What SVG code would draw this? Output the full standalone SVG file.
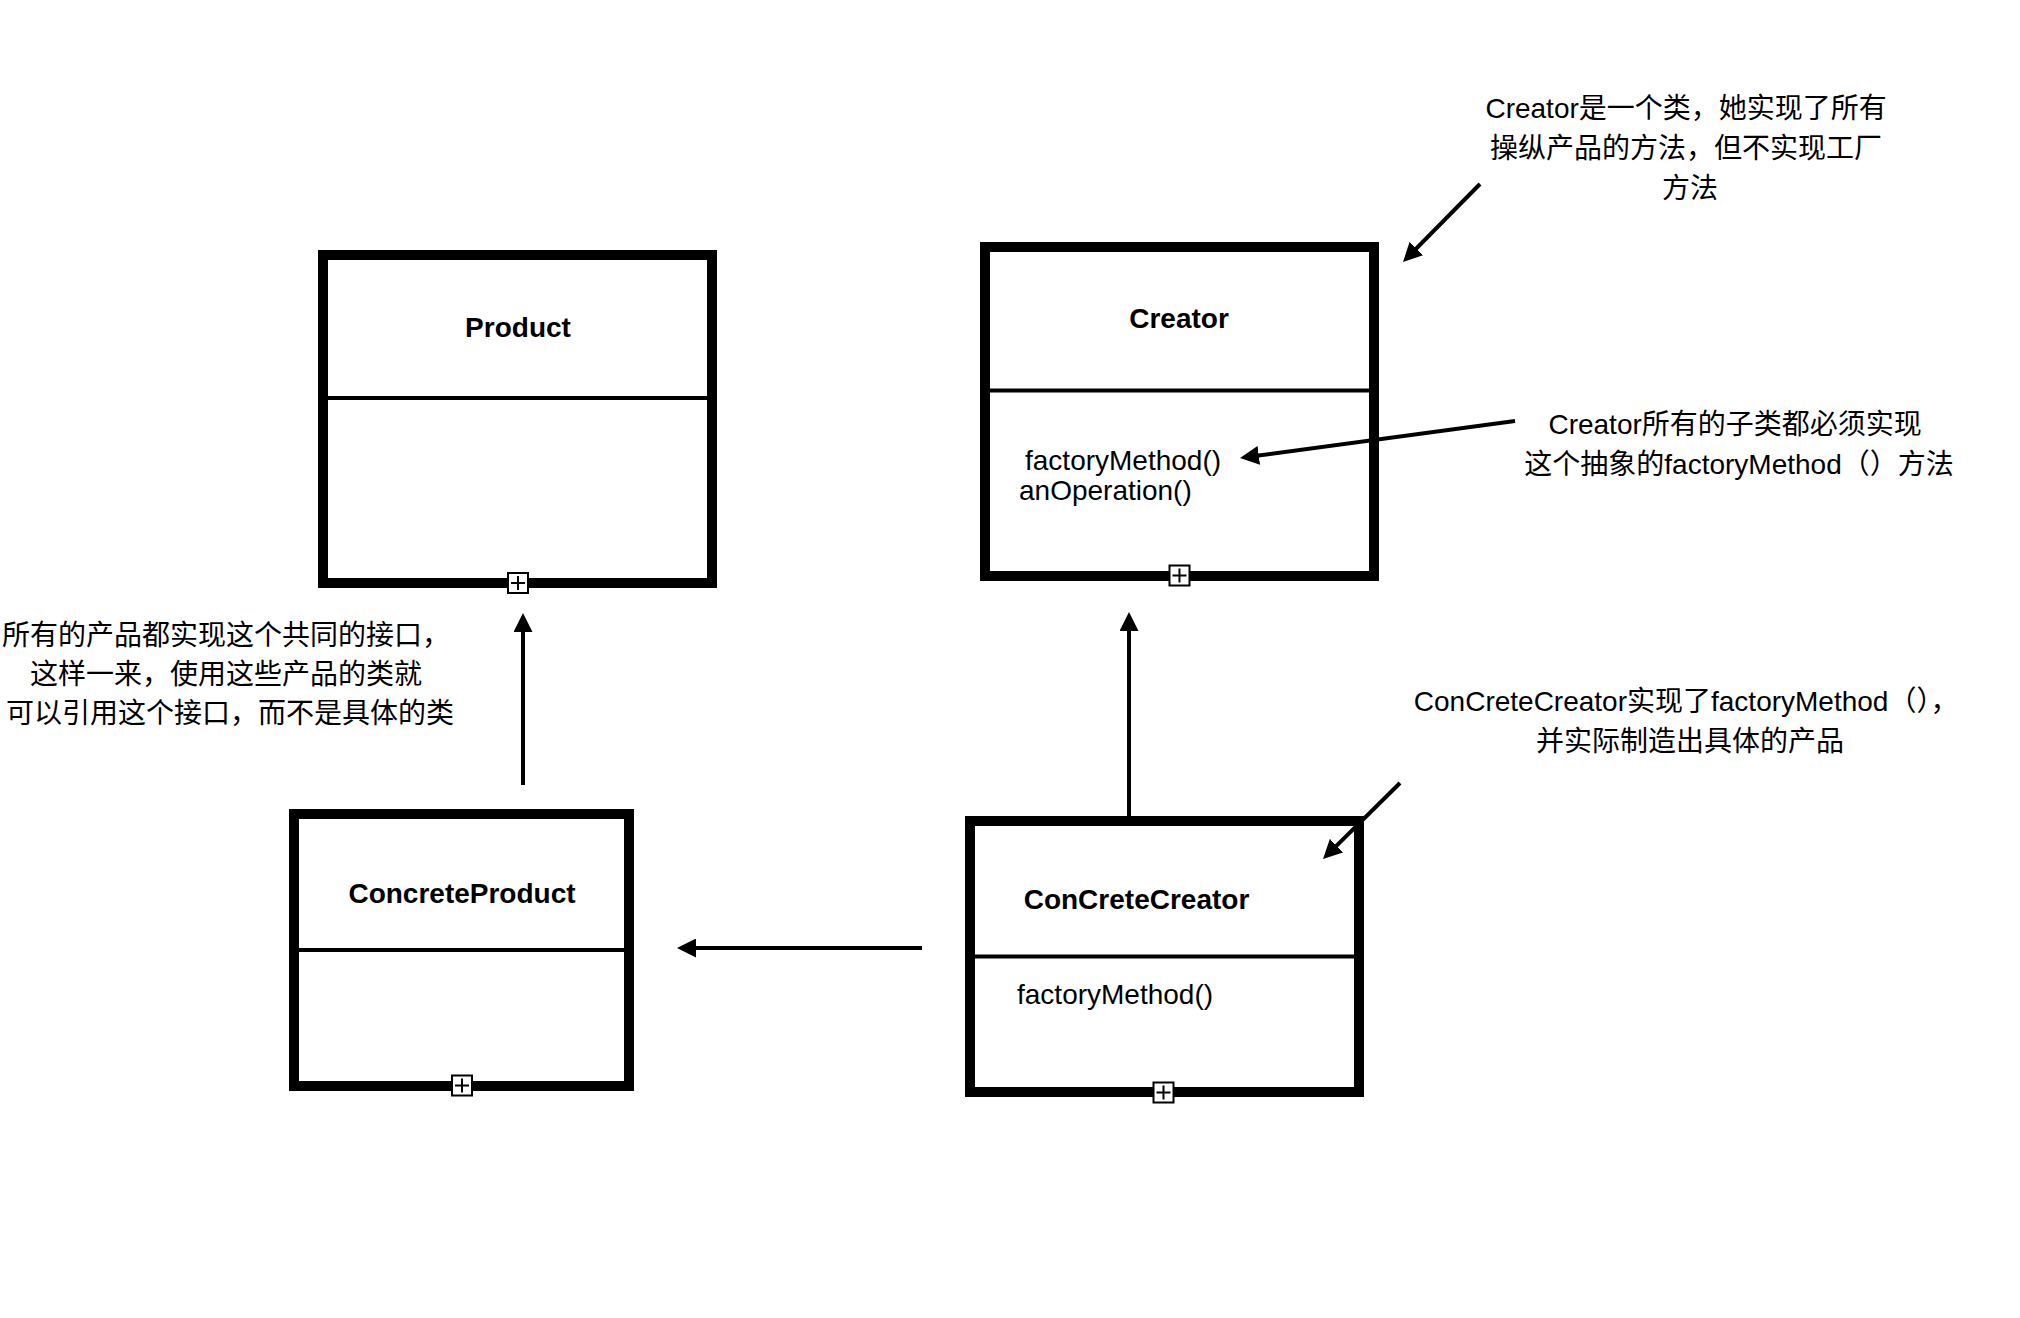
<svg xmlns="http://www.w3.org/2000/svg" width="2020" height="1318" viewBox="0 0 2020 1318">
<style>
.box{fill:#fff;stroke:#000;stroke-width:10}
.div{stroke:#000;stroke-width:4}
.title{font-family:"Liberation Sans","Noto Sans CJK SC",sans-serif;font-weight:bold;font-size:28px;fill:#000;text-anchor:middle}
.op{font-family:"Liberation Sans","Noto Sans CJK SC",sans-serif;font-size:28px;fill:#000}
.note{font-family:"Liberation Sans","Noto Sans CJK SC",sans-serif;font-size:28px;fill:#000;text-anchor:middle}
.plus rect{fill:#fff;stroke:#000;stroke-width:2}
.plus path{stroke:#000;stroke-width:2;fill:none}
.conn line{stroke:#000;stroke-width:4;fill:none;marker-end:url(#arr)}
</style>
<defs>
<marker id="arr" viewBox="0 0 19 19" markerWidth="19" markerHeight="19" refX="9.5" refY="9.5" markerUnits="userSpaceOnUse" orient="auto">
<path d="M0,0 L19,9.5 L0,19 Z" fill="#000"/>
</marker>
<g id="plusIcon" class="plus">
<rect x="-10" y="-10" width="20" height="20"/>
<path d="M-7,0 H7 M0,-7 V7"/>
</g>
</defs>
<rect width="2020" height="1318" fill="#fff"/>

<g id="product">
<rect class="box" x="323" y="255" width="389" height="328"/>
<line class="div" x1="328" y1="398" x2="707" y2="398"/>
<text class="title" x="518" y="337">Product</text>
<use href="#plusIcon" x="518" y="583"/>
</g>

<g id="creator">
<rect class="box" x="985" y="247" width="389" height="329"/>
<line class="div" x1="990" y1="390.5" x2="1369" y2="390.5"/>
<text class="title" x="1179" y="328">Creator</text>
<text class="op" x="1025" y="470">factoryMethod()</text>
<text class="op" x="1019" y="500">anOperation()</text>
<use href="#plusIcon" x="1179.5" y="575.5"/>
</g>

<g id="concreteProduct">
<rect class="box" x="294" y="814" width="335" height="272"/>
<line class="div" x1="299" y1="950" x2="624" y2="950"/>
<text class="title" x="462" y="903">ConcreteProduct</text>
<use href="#plusIcon" x="462" y="1085.5"/>
</g>

<g id="concreteCreator">
<rect class="box" x="970" y="821" width="389" height="271"/>
<line class="div" x1="975" y1="956.5" x2="1354" y2="956.5"/>
<text class="title" x="1136.5" y="909">ConCreteCreator</text>
<text class="op" x="1017" y="1004">factoryMethod()</text>
<use href="#plusIcon" x="1163.5" y="1092.5"/>
</g>

<g id="note-creator">
<text class="note">
<tspan x="1690" y="118">Creator是一个类，她实现了所有</tspan>
<tspan x="1690" y="158">操纵产品的方法，但不实现工厂</tspan>
<tspan x="1690" y="198">方法</tspan>
</text>
</g>

<g id="note-subclass">
<text class="note">
<tspan x="1739" y="434">Creator所有的子类都必须实现</tspan>
<tspan x="1739" y="474">这个抽象的factoryMethod（）方法</tspan>
</text>
</g>

<g id="note-interface">
<text class="note">
<tspan x="230" y="645">所有的产品都实现这个共同的接口，</tspan>
<tspan x="230" y="684">这样一来，使用这些产品的类就</tspan>
<tspan x="230" y="723">可以引用这个接口，而不是具体的类</tspan>
</text>
</g>

<g id="note-concrete">
<text class="note">
<tspan x="1690" y="711">ConCreteCreator实现了factoryMethod（），</tspan>
<tspan x="1690" y="751">并实际制造出具体的产品</tspan>
</text>
</g>

<g id="connectors" class="conn">
<line x1="523" y1="785" x2="523" y2="622.5"/>
<line x1="1129" y1="826" x2="1129" y2="621.5"/>
<line x1="922" y1="948" x2="686.5" y2="948"/>
<line x1="1480" y1="184" x2="1409.7" y2="255.2"/>
<line x1="1400" y1="783" x2="1329.8" y2="852.3"/>
<line x1="1515" y1="421" x2="1249.4" y2="456.7"/>
</g>
</svg>
